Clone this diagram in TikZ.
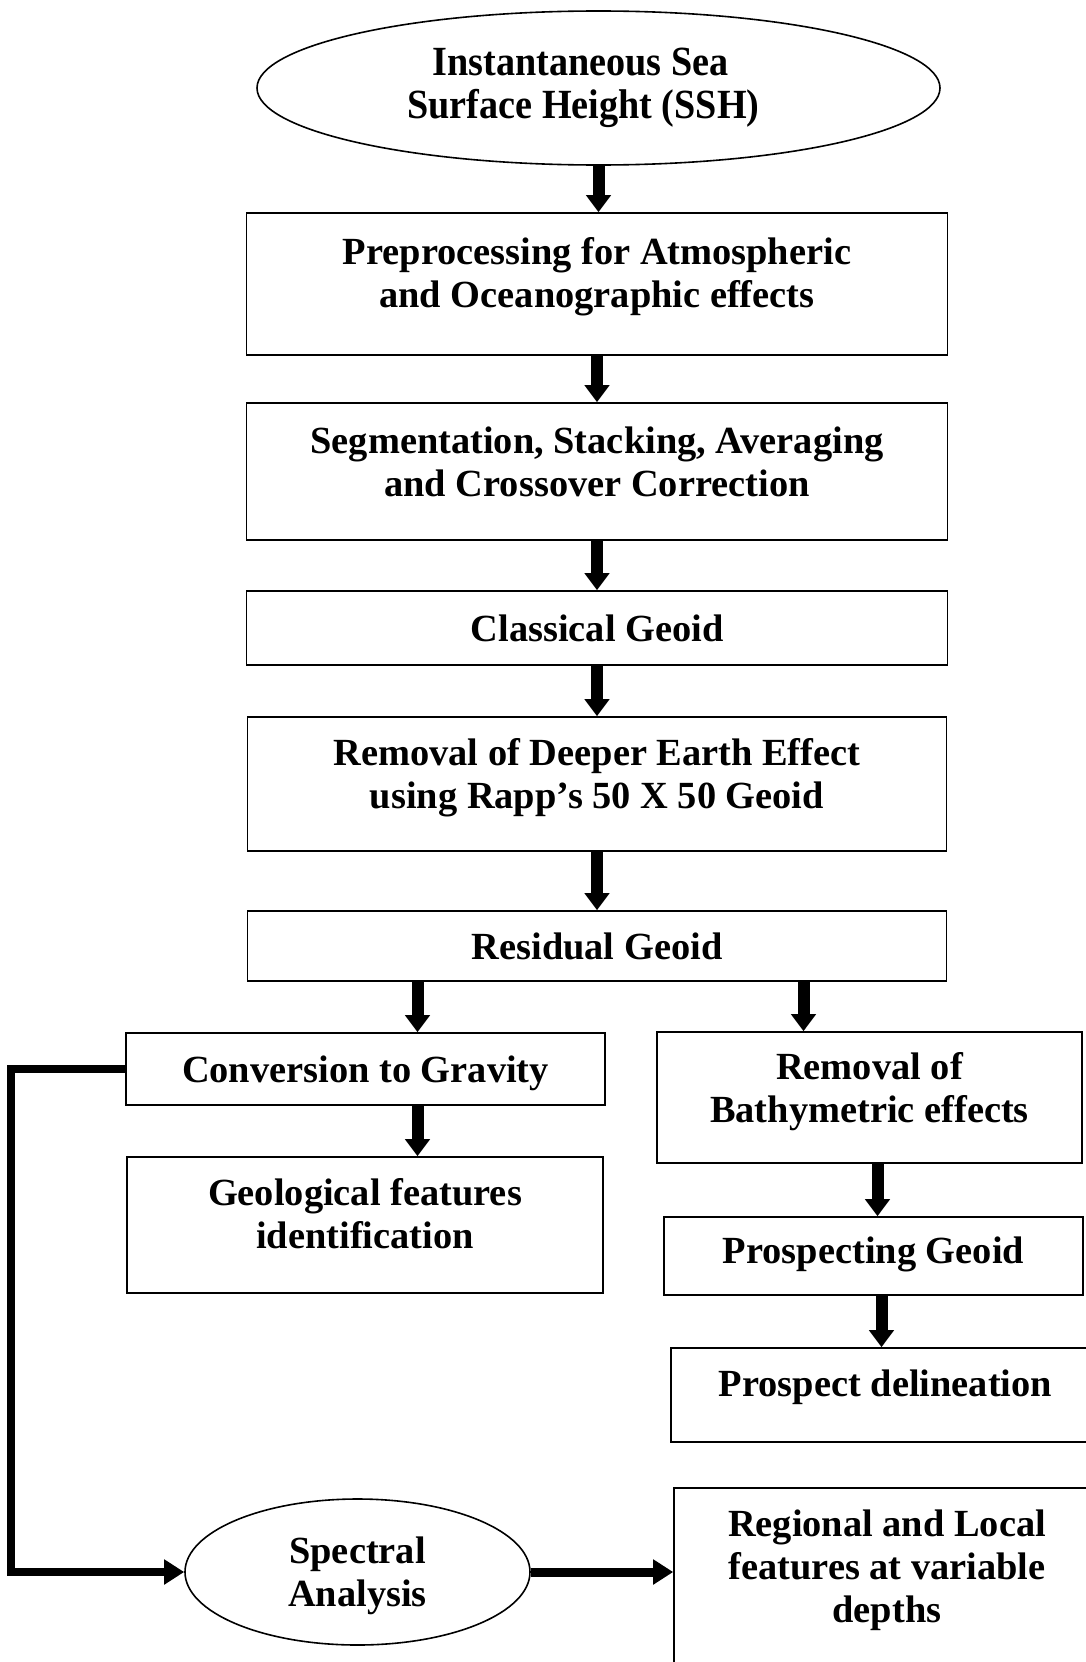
\documentclass[tikz,border=0pt]{standalone}
\usepackage{fontspec}
\setmainfont{Liberation Serif}
\newfontfamily\ovalfont[FakeStretch=0.92]{Liberation Serif}
\usepackage{tikz}
\usetikzlibrary{calc,arrows.meta,shapes.geometric}

\begin{document}
\begin{tikzpicture}[x=1pt,y=-1pt,
	font=\fontsize{38.4pt}{43pt}\selectfont\bfseries,
	box/.style={draw,line width=1.6pt,rectangle,align=center,inner sep=0pt,text depth=0pt},
	lift/.style={text depth=#1},
	oval/.style={draw,line width=1.6pt,ellipse,align=center,inner sep=0pt},
	arr/.style={line width=12pt,-{Triangle[width=24pt,length=17pt]}},
	harr/.style={line width=9pt,line join=miter,-{Triangle[width=24pt,length=20pt]}}]
							\useasboundingbox (0,0) rectangle (1086,1662);
							\clip (0,0) rectangle (1086,1662);
							
							\node[oval,minimum width=683pt,minimum height=154pt,font=\ovalfont\fontsize{41.5pt}{42.5pt}\selectfont\bfseries] (ssh) at (598.5,88) {Instantaneous Sea\hspace*{36pt}\\Surface Height (SSH)\hspace*{30pt}};
							\node[box,minimum width=701pt,minimum height=142pt,lift=24pt] (pre) at (597,284) {Preprocessing for Atmospheric\\and Oceanographic effects};
							\node[box,minimum width=701pt,minimum height=137pt,lift=20pt] (seg) at (597,471.5) {Segmentation, Stacking, Averaging\\and Crossover Correction};
							\node[box,minimum width=701pt,minimum height=74pt] (cla) at (597,628) {Classical Geoid};
							\node[box,minimum width=699pt,minimum height=134pt,lift=22pt] (rem) at (597,784) {Removal of Deeper Earth Effect\\using Rapp's 50 X 50 Geoid};
							\node[box,minimum width=699pt,minimum height=70pt] (res) at (597,946) {Residual Geoid};
							
							\node[box,minimum width=479pt,minimum height=72pt] (con) at (365.5,1069) {Conversion to Gravity};
							\node[box,minimum width=476pt,minimum height=136pt,lift=24pt] (geo) at (365,1225) {Geological features\\identification};
							\node[box,minimum width=425pt,minimum height=131pt,lift=20pt] (bat) at (869.5,1097.5) {Removal of\\Bathymetric effects};
							\node[box,minimum width=419pt,minimum height=78pt,lift=12pt] (pgeo) at (873.5,1256) {Prospecting Geoid};
							\node[box,minimum width=429pt,minimum height=94pt,lift=24pt] (pdel) at (885.5,1395) {Prospect delineation};
							\node[box,minimum width=426pt,minimum height=192pt,lift=36pt] (reg) at (887,1584) {Regional and Local\\features at variable\\depths};
							\node[oval,minimum width=345pt,minimum height=146pt,text depth=0pt] (spe) at (357.5,1572) {Spectral\\Analysis};
							
							\coordinate (cin) at ([xshift=52pt]con.north);
							\coordinate (cout) at ([xshift=52pt]con.south);
							\coordinate (bin) at ([xshift=-66pt]bat.north);
							\coordinate (bout) at ([xshift=8pt]bat.south);
							\coordinate (pout) at ([xshift=8pt]pgeo.south);
							
							\draw[arr] (ssh.south) -- (ssh.south |- pre.north);
							\draw[arr] (pre) -- (seg);
							\draw[arr] (seg) -- (cla);
							\draw[arr] (cla) -- (rem);
							\draw[arr] (rem) -- (res);
							\draw[arr] (cin |- res.south) -- (cin);
							\draw[arr] (bin |- res.south) -- (bin);
							\draw[arr] (cout) -- (cout |- geo.north);
							\draw[arr] (bout) -- (bout |- pgeo.north);
							\draw[arr] (pout) -- (pout |- pdel.north);
							
							\draw[harr,line width=8pt] (con.west) -- ++(-114,0) |- (spe.west);
							\draw[harr] (spe.east) -- (spe.east -| reg.west);
						\end{tikzpicture}
\end{document}
